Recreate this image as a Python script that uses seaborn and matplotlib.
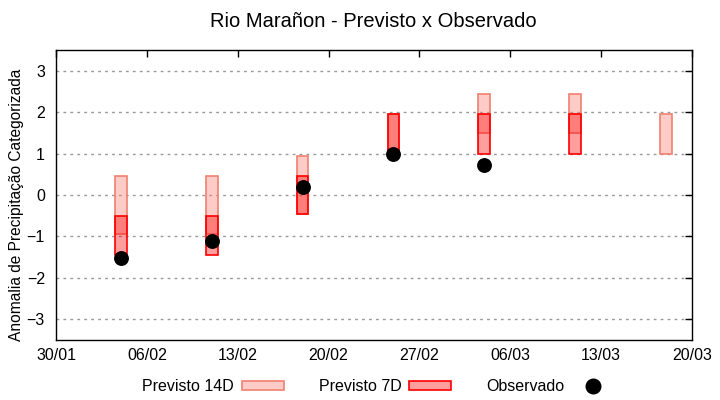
import matplotlib
matplotlib.use("Agg")
import matplotlib.pyplot as plt
import matplotlib.dates as mdates
from matplotlib.patches import Patch
from matplotlib.lines import Line2D
import seaborn as sns
import pandas as pd
import numpy as np

# forecast dates
dates = pd.to_datetime(["2023-02-04", "2023-02-11", "2023-02-18", "2023-02-25",
                        "2023-03-04", "2023-03-11", "2023-03-18"])
# 14-day forecast range
p14_low = [-0.95, -0.95, -0.45, 1.0, 1.5, 1.5, 1.0]
p14_high = [0.45, 0.45, 0.95, 1.95, 2.45, 2.45, 1.95]
# 7-day forecast range
p7_low = [-1.45, -1.45, -0.45, 1.0, 1.0, 1.0, np.nan]
p7_high = [-0.5, -0.5, 0.45, 1.95, 1.95, 1.95, np.nan]
# observed
obs = [-1.52, -1.1, 0.2, 1.0, 0.72, np.nan, np.nan]

xticks = pd.date_range("2023-01-30", "2023-03-20", freq="7D")

sns.set_style("white")
plt.rcParams["font.family"] = ["Liberation Sans", "DejaVu Sans"]
plt.rcParams["font.size"] = 11.5
for k in ["text.color", "axes.labelcolor", "xtick.color", "ytick.color"]:
    plt.rcParams[k] = "black"

fig = plt.figure(figsize=(7.2, 4.0), dpi=100)
ax = fig.add_axes([0.0778, 0.15, 0.8833, 0.725])

c14_face = (250/255, 128/255, 114/255, 0.4)
c7_face = (1.0, 0.0, 0.0, 0.38)

df = pd.DataFrame({"date": dates, "p14_low": p14_low, "p14_high": p14_high,
                   "p7_low": p7_low, "p7_high": p7_high, "obs": obs})

ax.bar(df["date"], df["p14_high"] - df["p14_low"], bottom=df["p14_low"], width=0.9,
       color=c14_face, edgecolor="#f08070", linewidth=1.2, zorder=3)
m = df["p7_low"].notna()
ax.bar(df["date"][m], (df["p7_high"] - df["p7_low"])[m], bottom=df["p7_low"][m], width=0.9,
       color=c7_face, edgecolor="red", linewidth=1.2, zorder=4)
sns.scatterplot(data=df.dropna(subset=["obs"]), x="date", y="obs", ax=ax, color="black",
                s=115, edgecolor="black", linewidth=0, zorder=5, legend=False)

ax.set_xlim(pd.Timestamp("2023-01-30"), pd.Timestamp("2023-03-20"))
ax.set_ylim(-3.5, 3.5)
ax.set_xticks(xticks)
ax.xaxis.set_major_formatter(mdates.DateFormatter("%d/%m"))
ax.set_yticks([-3, -2, -1, 0, 1, 2, 3])
ax.set_xlabel("")
ax.set_ylabel("Anomalia de Precipitação Categorizada", fontsize=11.2)
ax.yaxis.set_label_coords(-0.05, 0.466)
ax.tick_params(direction="in", top=True, right=True, length=5, width=1, color="black")
ax.tick_params(axis="x", pad=6)
ax.tick_params(axis="y", pad=8)
ax.yaxis.grid(True, linestyle=(0, (2, 3)), color="#999999", linewidth=1, zorder=0)
ax.set_axisbelow(True)
for s in ax.spines.values():
    s.set_color("black")
    s.set_linewidth(1)

fig.suptitle("Rio Marañon - Previsto x Observado", x=0.519, y=0.97, fontsize=14.5)

handles = [Patch(facecolor=c14_face, edgecolor="#f08070", linewidth=1.2),
           Patch(facecolor=c7_face, edgecolor="red", linewidth=1.2),
           Line2D([], [], marker="o", color="black", linestyle="none", markersize=10.5)]
fig.legend(handles, ["Previsto 14D", "Previsto 7D", "Observado"], loc="lower center",
           bbox_to_anchor=(0.525, -0.022), ncol=3, frameon=False, markerfirst=False,
           handlelength=2.6, handleheight=0.45, handletextpad=0.5, columnspacing=2.2,
           fontsize=11.5)

fig.savefig("out.png", dpi=100)
